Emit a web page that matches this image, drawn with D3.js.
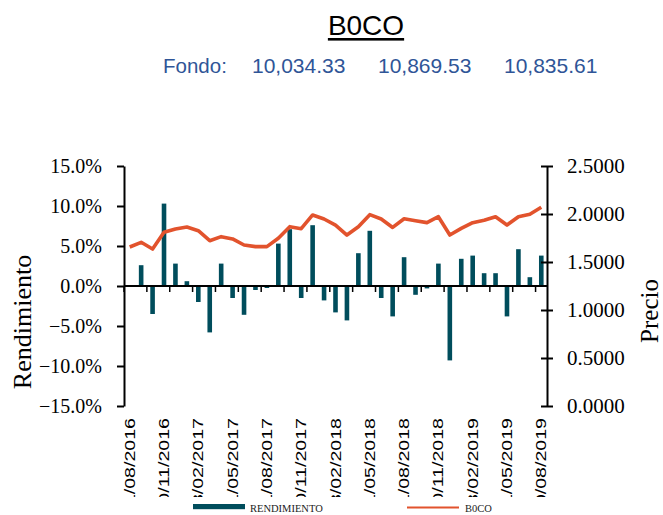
<!DOCTYPE html>
<html>
<head>
<meta charset="utf-8">
<script src="https://cdn.jsdelivr.net/npm/d3@7"></script>
<style>
  body { margin: 0; background: #fff; }
  svg { display: block; }
</style>
</head>
<body>
<div id="chart"></div>
<script>
// ========= Data =========
const months = [
  '31/08/2016','30/09/2016','31/10/2016','30/11/2016','31/12/2016',
  '31/01/2017','28/02/2017','31/03/2017','30/04/2017','31/05/2017','30/06/2017','31/07/2017',
  '31/08/2017','30/09/2017','31/10/2017','30/11/2017','31/12/2017',
  '31/01/2018','28/02/2018','31/03/2018','30/04/2018','31/05/2018','30/06/2018','31/07/2018',
  '31/08/2018','30/09/2018','31/10/2018','30/11/2018','31/12/2018',
  '31/01/2019','28/02/2019','31/03/2019','30/04/2019','31/05/2019','30/06/2019','31/07/2019',
  '30/08/2019'
];
const tickLabels = [
  '31/08/2016','30/11/2016','28/02/2017','31/05/2017','31/08/2017','30/11/2017','28/02/2018',
  '31/05/2018','31/08/2018','30/11/2018','28/02/2019','31/05/2019','30/08/2019'
];
// monthly return, %
const rendimiento = [
  0, 2.6, -3.5, 10.3, 2.8, 0.6, -2.0, -5.8, 2.8, -1.5, -3.6, -0.5,
  -0.25, 5.3, 7.1, -1.5, 7.6, -1.8, -3.3, -4.3, 4.1, 6.9, -1.5, -3.8,
  3.6, -1.1, -0.3, 2.8, -9.3, 3.4, 3.8, 1.6, 1.6, -3.8, 4.6, 1.1, 3.8
];
// price
const precio = [
  1.656, 1.705, 1.635, 1.81, 1.844, 1.865, 1.826, 1.722, 1.764, 1.74, 1.677, 1.66,
  1.66, 1.747, 1.868, 1.847, 1.99, 1.948, 1.885, 1.781, 1.868, 1.993, 1.948, 1.86,
  1.951, 1.93, 1.91, 1.972, 1.781, 1.85, 1.91, 1.934, 1.972, 1.885, 1.972, 1.997, 2.07
];
const leftTicks = [-15, -10, -5, 0, 5, 10, 15];
const rightTicks = [0, 0.5, 1, 1.5, 2, 2.5];
const fondoValues = ['10,034.33', '10,869.53', '10,835.61'];

// ========= Setup =========
const W = 663, H = 515;
const serif = '"Liberation Serif", "Times New Roman", serif';
const sans = '"Liberation Sans", Arial, sans-serif';
const barColor = '#004d5c';
const lineColor = '#e2532d';

const svg = d3.select('#chart').append('svg')
  .attr('width', W)
  .attr('height', H);

const x = d3.scaleBand().domain(months).range([124, 547]).padding(0);
const yL = d3.scaleLinear().domain([-15, 15]).range([406, 166]);
const yR = d3.scaleLinear().domain([0, 2.5]).range([406, 166]);
const bw = 4.6;

// ========= Title =========
const title = svg.append('text')
  .attr('x', 366).attr('y', 35)
  .attr('text-anchor', 'middle')
  .style('font-family', sans).style('font-size', '28px')
  .attr('fill', '#000')
  .text('B0CO');
const tw = title.node().getComputedTextLength();
svg.append('rect')
  .attr('x', 366 - tw / 2).attr('y', 38)
  .attr('width', tw).attr('height', 2.6)
  .attr('fill', '#000');

svg.append('text')
  .attr('x', 163).attr('y', 73)
  .style('font-family', sans).style('font-size', '20.5px')
  .attr('fill', '#2f5597')
  .text('Fondo:');
const fondoX = [252, 378, 504];
svg.selectAll('.fondo')
  .data(fondoValues)
  .enter().append('text')
  .attr('class', 'fondo')
  .attr('x', (d, i) => fondoX[i]).attr('y', 73)
  .style('font-family', sans).style('font-size', '21px')
  .attr('fill', '#2f5597')
  .text(d => d);

// ========= Bars =========
svg.append('g').selectAll('rect')
  .data(rendimiento)
  .enter().append('rect')
  .attr('x', (d, i) => x(months[i]) + x.bandwidth() / 2 - bw / 2)
  .attr('y', d => yL(Math.max(0, d)))
  .attr('width', bw)
  .attr('height', d => Math.abs(yL(d) - yL(0)))
  .attr('fill', barColor);

// ========= Category axis =========
const zeroY = yL(0);
svg.append('line')
  .attr('x1', 124).attr('x2', 547)
  .attr('y1', zeroY).attr('y2', zeroY)
  .attr('stroke', '#000').attr('stroke-width', 2);
svg.append('g').selectAll('line')
  .data(months.filter((d, i) => i % 2 === 0))
  .enter().append('line')
  .attr('x1', d => x(d)).attr('x2', d => x(d))
  .attr('y1', zeroY).attr('y2', zeroY + 6)
  .attr('stroke', '#000').attr('stroke-width', 1.5);

// ========= Price line =========
const line = d3.line()
  .x((d, i) => x(months[i]) + x.bandwidth() / 2)
  .y(d => yR(d));
svg.append('path')
  .datum(precio)
  .attr('d', line)
  .attr('fill', 'none')
  .attr('stroke', lineColor)
  .attr('stroke-width', 3.6)
  .attr('stroke-linejoin', 'round');

// ========= Left axis =========
const gL = svg.append('g')
  .attr('transform', 'translate(124,0)')
  .call(d3.axisLeft(yL).tickValues(leftTicks).tickSize(7).tickSizeOuter(0)
    .tickFormat(d => d3.format('.1f')(d) + '%'));
gL.select('.domain').attr('stroke-width', 2);
gL.selectAll('.tick line').attr('stroke-width', 2);
gL.selectAll('.tick text')
  .attr('x', -22)
  .style('font-family', serif).style('font-size', '20px');

// ========= Right axis =========
const gR = svg.append('g')
  .attr('transform', 'translate(547,0)')
  .call(d3.axisRight(yR).tickValues(rightTicks).tickSize(6).tickSizeOuter(0)
    .tickFormat(d3.format('.4f')));
gR.select('.domain').attr('stroke-width', 2);
gR.selectAll('.tick line').attr('x1', -6).attr('x2', 6).attr('stroke-width', 2);
gR.selectAll('.tick text')
  .attr('x', 20)
  .style('font-family', serif).style('font-size', '21px');

// ========= Date labels (clipped at the legend band) =========
svg.append('clipPath').attr('id', 'labelClip')
  .append('rect').attr('x', 100).attr('y', 400).attr('width', 470).attr('height', 97);
svg.append('g').attr('clip-path', 'url(#labelClip)')
  .selectAll('text')
  .data(tickLabels)
  .enter().append('text')
  .attr('transform', d => `translate(${x(d) + x.bandwidth() / 2},418) rotate(-90) scale(1.4,1)`)
  .attr('dy', '0.36em')
  .attr('text-anchor', 'end')
  .style('font-family', sans).style('font-size', '14px')
  .attr('fill', '#000')
  .text(d => d);

// ========= Axis titles =========
svg.append('text')
  .attr('transform', 'translate(31,322) rotate(-90)')
  .attr('text-anchor', 'middle')
  .style('font-family', serif).style('font-size', '26px')
  .text('Rendimiento');
svg.append('text')
  .attr('transform', 'translate(658,311) rotate(-90)')
  .attr('text-anchor', 'middle')
  .style('font-family', serif).style('font-size', '25px')
  .text('Precio');

// ========= Legend =========
svg.append('rect')
  .attr('x', 193).attr('y', 504).attr('width', 52).attr('height', 5.2)
  .attr('fill', barColor);
svg.append('text')
  .attr('x', 250).attr('y', 511.5)
  .style('font-family', serif).style('font-size', '10.5px')
  .attr('fill', '#222')
  .text('RENDIMIENTO');
svg.append('line')
  .attr('x1', 407).attr('x2', 459).attr('y1', 507.5).attr('y2', 507.5)
  .attr('stroke', lineColor).attr('stroke-width', 1.8);
svg.append('text')
  .attr('x', 465).attr('y', 511.5)
  .style('font-family', serif).style('font-size', '10.5px')
  .attr('fill', '#222')
  .text('B0CO');
</script>
</body>
</html>
